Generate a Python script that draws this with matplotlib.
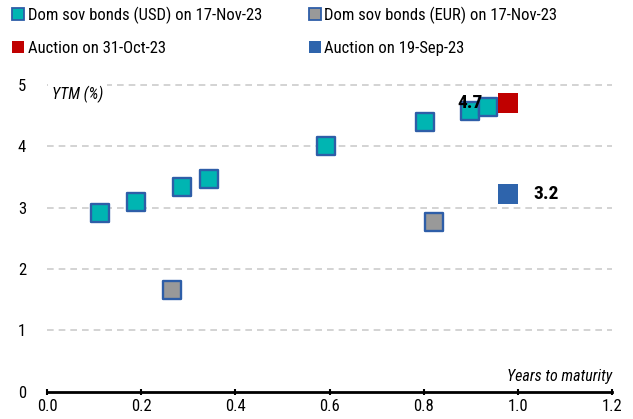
import matplotlib
matplotlib.use('Agg')
from matplotlib import pyplot as plt
from matplotlib.lines import Line2D

plt.rcParams['font.family'] = ['Roboto Condensed', 'Liberation Sans Narrow', 'Roboto', 'DejaVu Sans']

# Domestic sovereign bonds (USD) on 17-Nov-23
usd_x = [0.113, 0.190, 0.286, 0.343, 0.592, 0.803, 0.898, 0.937]
usd_y = [2.92, 3.10, 3.33, 3.46, 4.00, 4.40, 4.57, 4.65]
# Domestic sovereign bonds (EUR) on 17-Nov-23
eur_x = [0.266, 0.822]
eur_y = [1.66, 2.76]
# Auctions
oct_x = [0.980]
oct_y = [4.70]
sep_x = [0.980]
sep_y = [3.23]
oct_label = '4.7'
sep_label = '3.2'

teal = '#00b5b2'
grey = '#999999'
edge = '#2e5ea8'
red = '#c00000'
blue = '#2e64ac'

fig = plt.figure(figsize=(6.33, 4.19), dpi=100)
ax = fig.add_axes([0.0743, 0.0654, 0.8925, 0.7316])

ax.set_xlim(0, 1.2)
ax.set_ylim(0, 5)
ax.set_yticks([0, 1, 2, 3, 4, 5])
ax.set_xticks([0.0, 0.2, 0.4, 0.6, 0.8, 1.0, 1.2])
ax.set_xticklabels(['0.0', '0.2', '0.4', '0.6', '0.8', '1.0', '1.2'])

for g in [1, 2, 3, 4, 5]:
    ax.axhline(g, color='#cccccc', lw=1.2, ls=(0, (4, 3)), zorder=1, clip_on=False)

ax.scatter(usd_x, usd_y, marker='s', s=175, c=teal, edgecolors=edge, linewidths=1.7, zorder=3)
ax.scatter(eur_x, eur_y, marker='s', s=175, c=grey, edgecolors=edge, linewidths=1.7, zorder=3)
ax.scatter(oct_x, oct_y, marker='s', s=215, c=red, linewidths=0, zorder=3)
ax.scatter(sep_x, sep_y, marker='s', s=200, c=blue, linewidths=0, zorder=3)

ax.text(0.898, oct_y[0], oct_label, ha='center', va='center', fontsize=14,
        fontweight='bold', zorder=4)
ax.text(1.061, sep_y[0], sep_label, ha='center', va='center', fontsize=14,
        fontweight='bold', zorder=4)

for s in ['left', 'right', 'top']:
    ax.spines[s].set_visible(False)
ax.spines['bottom'].set_linewidth(2)
ax.spines['bottom'].set_zorder(5)
ax.tick_params(axis='x', direction='inout', length=5, width=1.5, labelsize=12, pad=3)
ax.tick_params(axis='y', length=0, labelsize=12, pad=15)

ax.text(0.01, 4.84, 'YTM (%)', fontsize=11.5, style='italic', ha='left', va='center',
        zorder=2, bbox=dict(facecolor='white', edgecolor='none', pad=3))
ax.text(1.2, 0.25, 'Years to maturity', fontsize=11.5, style='italic', ha='right',
        va='center')

h_usd = Line2D([], [], marker='s', ls='none', ms=9, mfc=teal, mec=edge, mew=1.3)
h_oct = Line2D([], [], marker='s', ls='none', ms=9, mfc=red, mec=red, mew=0)
h_eur = Line2D([], [], marker='s', ls='none', ms=9, mfc=grey, mec=edge, mew=1.3)
h_sep = Line2D([], [], marker='s', ls='none', ms=9, mfc=blue, mec=blue, mew=0)

leg_kw = dict(loc='upper left', frameon=False, fontsize=12, handlelength=0.8,
              handletextpad=0.15, labelspacing=1.0, borderaxespad=0.0)
fig.legend([h_usd, h_oct], ['Dom sov bonds (USD) on 17-Nov-23', 'Auction on 31-Oct-23'],
           bbox_to_anchor=(0.008, 1.0), **leg_kw)
fig.legend([h_eur, h_sep], ['Dom sov bonds (EUR) on 17-Nov-23', 'Auction on 19-Sep-23'],
           bbox_to_anchor=(0.476, 1.0), **leg_kw)

plt.savefig('out.png', dpi=100)
